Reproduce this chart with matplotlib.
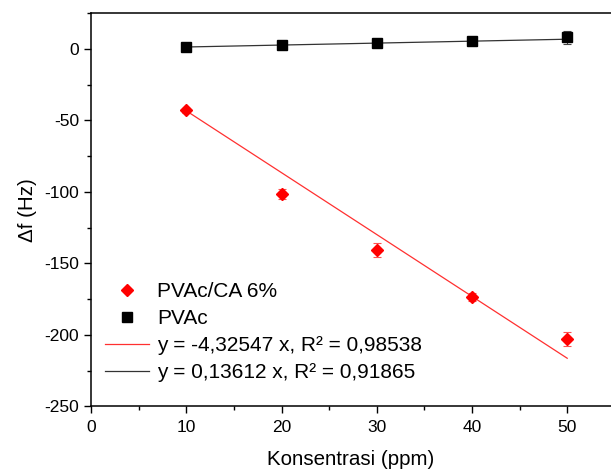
import matplotlib
matplotlib.use('Agg')
import matplotlib.pyplot as plt
import numpy as np
from matplotlib.ticker import MultipleLocator

plt.rcParams['font.family'] = ['Liberation Sans', 'DejaVu Sans']
plt.rcParams['axes.unicode_minus'] = False

# data
conc = [10, 20, 30, 40, 50]
pvac = [1.6, 2.8, 4.4, 5.6, 8.2]
pvac_err = [1.0, 1.0, 1.0, 2.5, 4.5]
pvac_ca = [-43, -101.5, -140.5, -173.5, -203]
pvac_ca_err = [1.5, 3.3, 4.9, 3.0, 5.0]
slope_ca = -4.32547
slope_pvac = 0.13612
label_ca = 'PVAc/CA 6%'
label_pvac = 'PVAc'
label_fit_ca = 'y = -4,32547 x, R² = 0,98538'
label_fit_pvac = 'y = 0,13612 x, R² = 0,91865'

fig = plt.figure(figsize=(6.11, 4.71), dpi=100)
ax = fig.add_axes([0.149, 0.137, 0.851, 0.835])

xfit = np.array([conc[0], conc[-1]])
l_ca, = ax.plot(xfit, slope_ca*xfit, color='#ff3030', lw=0.9, label=label_fit_ca)
l_pv, = ax.plot(xfit, slope_pvac*xfit, color='#333333', lw=0.9, label=label_fit_pvac)

e_ca = ax.errorbar(conc, pvac_ca, yerr=pvac_ca_err, fmt='D', color='red', ms=6.5,
                   capsize=3, elinewidth=0.8, capthick=0.8, ecolor='#ff5050', label=label_ca)
e_pv = ax.errorbar(conc, pvac, yerr=pvac_err, fmt='s', color='black', ms=7,
                   capsize=3, elinewidth=0.8, capthick=0.8, ecolor='#444444', label=label_pvac)

ax.set_xlim(0, 54.6)
ax.set_ylim(-250, 25)
ax.xaxis.set_major_locator(MultipleLocator(10))
ax.xaxis.set_minor_locator(MultipleLocator(5))
ax.yaxis.set_major_locator(MultipleLocator(50))
ax.yaxis.set_minor_locator(MultipleLocator(25))
ax.tick_params(which='both', direction='out', width=1, labelsize=12.5)
ax.tick_params(which='major', length=5)
ax.tick_params(which='minor', length=3)
ax.tick_params(axis='x', pad=5)
ax.spines['right'].set_visible(False)
for s in ['left', 'bottom', 'top']:
    ax.spines[s].set_linewidth(1.1)

ax.set_xlabel('Konsentrasi (ppm)', fontsize=14.8, labelpad=10.5)
ax.set_ylabel('Δf (Hz)', fontsize=14.8, labelpad=5.5)

ax.legend([e_ca[0], e_pv[0], l_ca, l_pv], [label_ca, label_pvac, label_fit_ca, label_fit_pvac],
          loc='upper left', bbox_to_anchor=(0.172, 0.401), bbox_transform=fig.transFigure,
          frameon=False, fontsize=15, handlelength=2.1, handletextpad=0.4,
          labelspacing=0.38, borderpad=0, borderaxespad=0)

plt.savefig('out.png', dpi=100)
